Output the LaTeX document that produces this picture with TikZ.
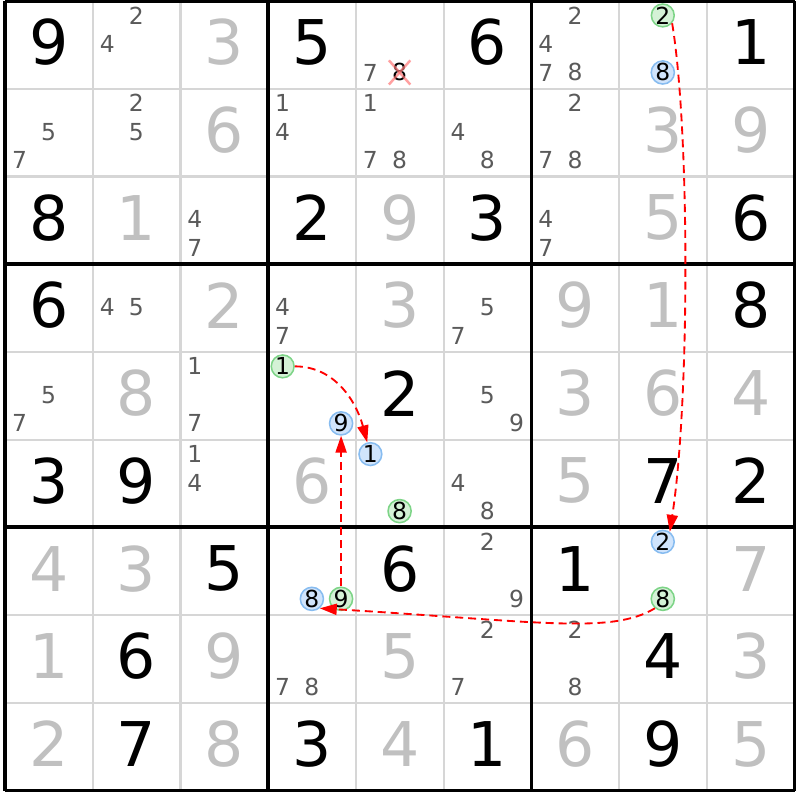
\documentclass[tikz,border=0pt]{standalone}
\usepackage{fontspec}
\setmainfont{DejaVu Sans}
\usetikzlibrary{arrows.meta}

\definecolor{solvedgray}{RGB}{192,192,192}
\definecolor{candgray}{RGB}{90,90,90}
\definecolor{thingray}{RGB}{214,214,214}
\definecolor{ongreen}{RGB}{125,212,135}
\definecolor{ongreenfill}{RGB}{212,242,214}
\definecolor{offblue}{RGB}{135,188,240}
\definecolor{offbluefill}{RGB}{208,228,252}
\definecolor{crossred}{RGB}{255,120,120}

\tikzset{
  given/.style={inner sep=0pt,font=\fontsize{20}{20}\selectfont,text=black},
  solved/.style={given,text=solvedgray},
  cand/.style={inner sep=0pt,font=\fontsize{7.6}{7.6}\selectfont,text=candgray},
  crossed/.style={cand,text=black},
  oncand/.style={circle,draw=ongreen,fill=ongreenfill,line width=0.5pt,minimum size=0.26cm,inner sep=0pt,font=\fontsize{7.6}{7.6}\selectfont,text=black},
  offcand/.style={oncand,draw=offblue,fill=offbluefill},
  chain/.style={red,line width=0.6pt,dash pattern=on 2.6pt off 1.6pt,-{Triangle[length=5.5pt,width=3.6pt]}}
}

% big digit in cell (col,row)
\newcommand{\celldigit}[4][given]{\node[#1] (r#3c#2) at (#2-0.5,-#3+0.53) {#4};}
% pencil mark in cell (col,row)
\newcommand{\pencil}[4][cand]{\node[#1] (r#3c#2n#4) at ({#2-1+0.165+0.333*mod(#4-1,3)},{-(#3-1)-0.165-0.325*floor((#4-1)/3)}) {#4};}
\newcommand{\pencils}[3]{\foreach \d in {#3}{\pencil{#1}{#2}{\d}}}

\begin{document}
\begin{tikzpicture}
        \useasboundingbox (-0.057,0.011) rectangle (9.051,-9.108);
        %THIN LINES
        \foreach \i in {1,2,4,5,7,8} {
          \draw[thingray,line width=0.7pt] (\i,0) -- (\i,-9);
          \draw[thingray,line width=0.7pt] (0,-\i) -- (9,-\i);
        }
        %BOX LINES
        \foreach \i in {0,3,6,9} {
          \draw[black,line width=1.2pt] (\i,0) -- (\i,-9);
          \draw[black,line width=1.2pt] (0,-\i) -- (9,-\i);
        }

        %ROW 1
        \celldigit{1}{1}{9}
        \pencils{2}{1}{2,4}
        \celldigit[solved]{3}{1}{3}
        \celldigit{4}{1}{5}
        \pencil{5}{1}{7}
        \pencil[crossed]{5}{1}{8}
        \celldigit{6}{1}{6}
        \pencils{7}{1}{2,4,7,8}
        \pencil[oncand]{8}{1}{2}
        \pencil[offcand]{8}{1}{8}
        \celldigit{9}{1}{1}
        %ROW 2
        \pencils{1}{2}{5,7}
        \pencils{2}{2}{2,5}
        \celldigit[solved]{3}{2}{6}
        \pencils{4}{2}{1,4}
        \pencils{5}{2}{1,7,8}
        \pencils{6}{2}{4,8}
        \pencils{7}{2}{2,7,8}
        \celldigit[solved]{8}{2}{3}
        \celldigit[solved]{9}{2}{9}
        %ROW 3
        \celldigit{1}{3}{8}
        \celldigit[solved]{2}{3}{1}
        \pencils{3}{3}{4,7}
        \celldigit{4}{3}{2}
        \celldigit[solved]{5}{3}{9}
        \celldigit{6}{3}{3}
        \pencils{7}{3}{4,7}
        \celldigit[solved]{8}{3}{5}
        \celldigit{9}{3}{6}
        %ROW 4
        \celldigit{1}{4}{6}
        \pencils{2}{4}{4,5}
        \celldigit[solved]{3}{4}{2}
        \pencils{4}{4}{4,7}
        \celldigit[solved]{5}{4}{3}
        \pencils{6}{4}{5,7}
        \celldigit[solved]{7}{4}{9}
        \celldigit[solved]{8}{4}{1}
        \celldigit{9}{4}{8}
        %ROW 5
        \pencils{1}{5}{5,7}
        \celldigit[solved]{2}{5}{8}
        \pencils{3}{5}{1,7}
        \pencil[oncand]{4}{5}{1}
        \pencil[offcand]{4}{5}{9}
        \celldigit{5}{5}{2}
        \pencils{6}{5}{5,9}
        \celldigit[solved]{7}{5}{3}
        \celldigit[solved]{8}{5}{6}
        \celldigit[solved]{9}{5}{4}
        %ROW 6
        \celldigit{1}{6}{3}
        \celldigit{2}{6}{9}
        \pencils{3}{6}{1,4}
        \celldigit[solved]{4}{6}{6}
        \pencil[offcand]{5}{6}{1}
        \pencil[oncand]{5}{6}{8}
        \pencils{6}{6}{4,8}
        \celldigit[solved]{7}{6}{5}
        \celldigit{8}{6}{7}
        \celldigit{9}{6}{2}
        %ROW 7
        \celldigit[solved]{1}{7}{4}
        \celldigit[solved]{2}{7}{3}
        \celldigit{3}{7}{5}
        \pencil[offcand]{4}{7}{8}
        \pencil[oncand]{4}{7}{9}
        \celldigit{5}{7}{6}
        \pencils{6}{7}{2,9}
        \celldigit{7}{7}{1}
        \pencil[offcand]{8}{7}{2}
        \pencil[oncand]{8}{7}{8}
        \celldigit[solved]{9}{7}{7}
        %ROW 8
        \celldigit[solved]{1}{8}{1}
        \celldigit{2}{8}{6}
        \celldigit[solved]{3}{8}{9}
        \pencils{4}{8}{7,8}
        \celldigit[solved]{5}{8}{5}
        \pencils{6}{8}{2,7}
        \pencils{7}{8}{2,8}
        \celldigit{8}{8}{4}
        \celldigit[solved]{9}{8}{3}
        %ROW 9
        \celldigit[solved]{1}{9}{2}
        \celldigit{2}{9}{7}
        \celldigit[solved]{3}{9}{8}
        \celldigit{4}{9}{3}
        \celldigit[solved]{5}{9}{4}
        \celldigit{6}{9}{1}
        \celldigit[solved]{7}{9}{6}
        \celldigit{8}{9}{9}
        \celldigit[solved]{9}{9}{5}

        %ELIMINATED 8
        \draw[crossred,opacity=0.7,line width=0.8pt] ([shift={(-0.03,0.03)}]r1c5n8.north west) -- ([shift={(0.03,-0.03)}]r1c5n8.south east);
        \draw[crossred,opacity=0.7,line width=0.8pt] ([shift={(-0.03,-0.03)}]r1c5n8.south west) -- ([shift={(0.03,0.03)}]r1c5n8.north east);

        %CHAIN
        \draw[chain] (r1c8n2.-40) .. controls +(0.2,-1.2) and +(0.23,1.5) .. (r7c8n2.55);
        \draw[chain] (r7c8n8.-130) .. controls +(-0.5,-0.3) and +(2.5,-0.15) .. (r7c4n8.-50);
        \draw[chain] (r7c4n9) -- (r5c4n9);
        \draw[chain] (r5c4n1) to[out=0,in=105] (r6c5n1);
\end{tikzpicture}
\end{document}
